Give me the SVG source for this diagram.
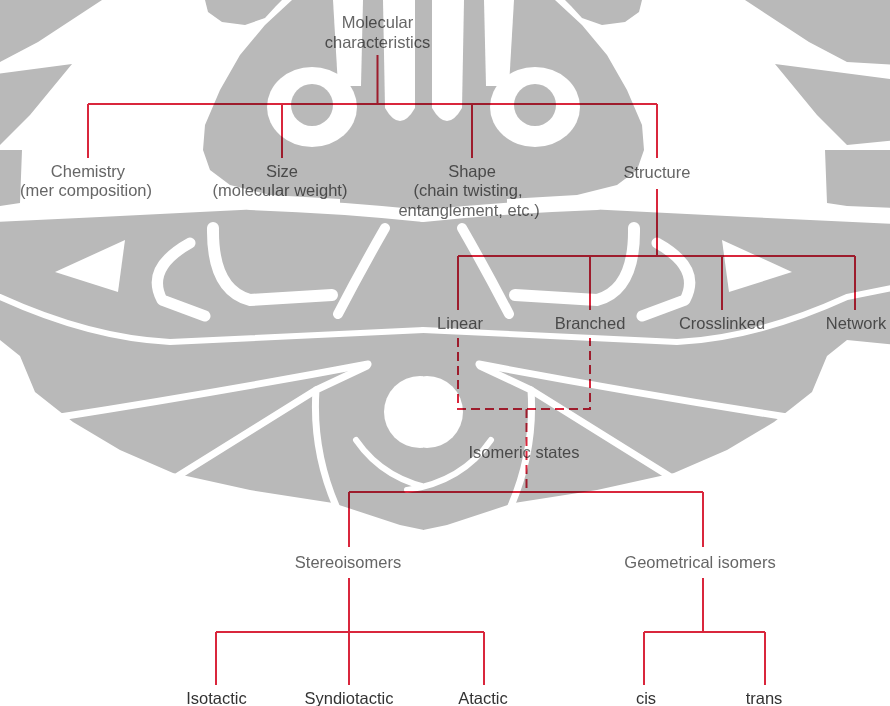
<svg xmlns="http://www.w3.org/2000/svg" xmlns:xlink="http://www.w3.org/1999/xlink" width="890" height="706" viewBox="0 0 890 706">
<style>
.wg{fill:#b9b9b9}
.ww{fill:#fff}
.ws{fill:none;stroke:#fff;stroke-linecap:round;stroke-linejoin:round}
.t{font-family:"Liberation Sans",Arial,sans-serif;font-size:16.5px;fill:#666;text-anchor:middle}
.tb{fill:#333}
.ln{stroke:#d9263c;stroke-width:2;fill:none}
.dash{stroke-dasharray:9 5}
.mul{mix-blend-mode:multiply}
</style>
<defs>
<g id="wm-half">
  <path class="wg" d="M424,0 L-50,0 L-50,345 L0,340 L20,356 L35,392 L73,422 L120,450 L173,473 L250,490 L333,503 L400,525 L424,530 Z"/>
  <path class="ww" d="M102,0 L205,0 L208,12 L222,22 L245,25 L265,18 L276,6 L282,0 L292,0 L265,25 L240,55 L220,90 L205,125 L203,150 L210,170 L230,185 L270,195 L340,199 L340,205 L200,212 L100,217 L-50,224 L-50,208 L0,206 L20,203 L22,150 L-50,150 L-50,140 L0,145 L30,115 L72,64 L-50,80 L-50,65 L0,62 L38,42 Z"/>
  <ellipse class="ww" cx="312" cy="107" rx="45" ry="40"/>
  <circle class="wg" cx="312" cy="105" r="21"/>
  <path class="ww" d="M333,0 L363,0 L361,86 L338,86 Z"/>
  <path class="ww" d="M383,0 L415,0 L415,108 Q400,134 385,108 Z"/>
  <path class="ws" stroke-width="12" d="M250,204 Q340,207 424,216"/>
  <path class="ww" d="M55,272 L125,240 L118,292 Z"/>
  <path class="ws" stroke-width="11" d="M190,243 Q145,268 162,300 L205,316"/>
  <path class="ws" stroke-width="12" d="M213,228 Q212,290 250,300 L332,295"/>
  <path class="ws" stroke-width="10" d="M385,228 Q362,268 338,314"/>
  <path class="ws" stroke-width="6" d="M-50,287 L0,297 Q90,338 170,342 L424,330"/>
  <path class="ws" stroke-width="7" d="M60,417 Q220,392 368,364"/>
  <path class="ws" stroke-width="7" d="M367,366 L316,390 Q312,450 336,506"/>
  <path class="ws" stroke-width="7" d="M316,390 L178,476"/>
  <circle class="ww" cx="420" cy="412" r="36"/>
  <path class="ws" stroke-width="6" d="M356,440 Q385,482 440,490"/>
</g>
</defs>
<rect x="0" y="0" width="890" height="706" fill="#fff"/>
<g id="watermark">
  <use xlink:href="#wm-half" href="#wm-half"/>
  <use xlink:href="#wm-half" href="#wm-half" transform="matrix(-1 0 0 1 847 0)"/>
</g>
<g id="connectors" class="mul">
  <path class="ln" d="M377.5,55 V104 M88,104 H657 M88,104 V158 M282,104 V158 M472,104 V158 M657,104 V158"/>
  <path class="ln" d="M657,189 V256 M458,256 H855 M458,256 V310 M590,256 V310 M722,256 V310 M855,256 V310"/>
  <path class="ln dash" d="M458,338 V409 H590 V338 M526.5,409 V492"/>
  <path class="ln" d="M349,492 H703 M349,492 V547 M703,492 V547"/>
  <path class="ln" d="M349,578 V685 M216,632 H484 M216,632 V685 M484,632 V685"/>
  <path class="ln" d="M703,578 V632 M644,632 H765 M644,632 V685 M765,632 V685"/>
</g>
<g id="nodes" class="mul">
  <g id="n-molecular"><text class="t" x="377.5" y="27.5">Molecular</text><text class="t" x="377.5" y="48">characteristics</text></g>
  <g id="n-chemistry"><text class="t" x="88" y="177">Chemistry</text><text class="t" x="86" y="196">(mer composition)</text></g>
  <g id="n-size"><text class="t" x="282" y="177">Size</text><text class="t" x="280" y="196">(molecular weight)</text></g>
  <g id="n-shape"><text class="t" x="472" y="177">Shape</text><text class="t" x="468" y="196">(chain twisting,</text><text class="t" x="469" y="215.5">entanglement, etc.)</text></g>
  <g id="n-structure"><text class="t" x="657" y="178">Structure</text></g>
  <g id="n-linear"><text class="t" x="460" y="329">Linear</text></g>
  <g id="n-branched"><text class="t" x="590" y="329">Branched</text></g>
  <g id="n-crosslinked"><text class="t" x="722" y="329">Crosslinked</text></g>
  <g id="n-network"><text class="t" x="856" y="329">Network</text></g>
  <g id="n-isomeric"><text class="t" x="524" y="458">Isomeric states</text></g>
  <g id="n-stereo"><text class="t" x="348" y="567.5">Stereoisomers</text></g>
  <g id="n-geometrical"><text class="t" x="700" y="567.5">Geometrical isomers</text></g>
  <g id="n-isotactic"><text class="t tb" x="216.5" y="704">Isotactic</text></g>
  <g id="n-syndiotactic"><text class="t tb" x="349" y="704">Syndiotactic</text></g>
  <g id="n-atactic"><text class="t tb" x="483" y="704">Atactic</text></g>
  <g id="n-cis"><text class="t tb" x="646" y="704">cis</text></g>
  <g id="n-trans"><text class="t tb" x="764" y="704">trans</text></g>
</g>
</svg>
